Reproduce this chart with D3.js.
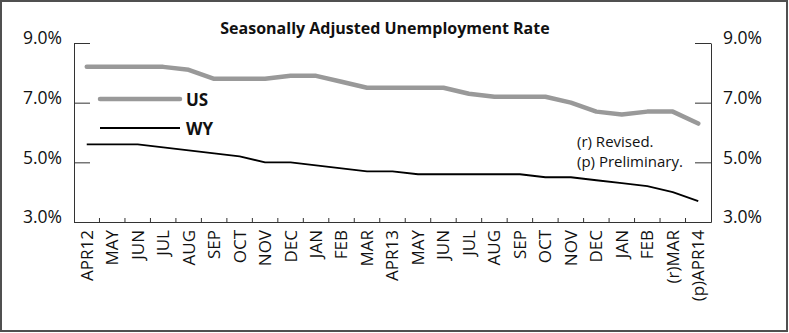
<!DOCTYPE html>
<html>
<head>
<meta charset="utf-8">
<script src="https://cdn.jsdelivr.net/npm/d3@7"></script>
<style>
  html, body { margin: 0; padding: 0; background: #fff; }
  svg { display: block; font-family: "Open Sans", sans-serif; }
</style>
</head>
<body>
<svg id="chart" width="789" height="333"></svg>
<script>
// ---- data ----
const months = ["APR12","MAY","JUN","JUL","AUG","SEP","OCT","NOV","DEC","JAN","FEB","MAR",
                "APR13","MAY","JUN","JUL","AUG","SEP","OCT","NOV","DEC","JAN","FEB","(r)MAR","(p)APR14"];
const usRate = [8.2,8.2,8.2,8.2,8.1,7.8,7.8,7.8,7.9,7.9,7.7,7.5,
                7.5,7.5,7.5,7.3,7.2,7.2,7.2,7.0,6.7,6.6,6.7,6.7,6.3];
const wyRate = [5.6,5.6,5.6,5.5,5.4,5.3,5.2,5.0,5.0,4.9,4.8,4.7,
                4.7,4.6,4.6,4.6,4.6,4.6,4.5,4.5,4.4,4.3,4.2,4.0,3.7];
const yTicks = [3,5,7,9];
const yTickLabels = ["3.0%","5.0%","7.0%","9.0%"];
const seriesNames = ["US","WY"];
const title = "Seasonally Adjusted Unemployment Rate";
const notes = ["(r) Revised.","(p) Preliminary."];

// ---- layout ----
const svg = d3.select("#chart");
const L = 74, R = 711, T = 43, B = 222;
const axisColor = "#333";

svg.append("rect").attr("x",1).attr("y",1).attr("width",786).attr("height",330)
  .attr("fill","#fff").attr("stroke","#505050").attr("stroke-width",2);

const idx = months.map((d,i)=>i);
const x = d3.scaleBand().domain(idx).range([L,R]).paddingInner(0).paddingOuter(0);
const y = d3.scaleLinear().domain([3,9]).range([B,T]);
const cx = i => x(i) + x.bandwidth()/2;

// title
svg.append("text").attr("x",385).attr("y",33.5).attr("text-anchor","middle")
  .attr("font-weight","bold").attr("font-size",16).attr("fill","#111").text(title);

// y axes
const fmt = d => yTickLabels[yTicks.indexOf(d)];
const gl = svg.append("g").attr("transform",`translate(${L},0)`)
  .call(d3.axisLeft(y).tickValues(yTicks).tickFormat(fmt).tickSize(-16).tickSizeOuter(0).tickPadding(12));
const gr = svg.append("g").attr("transform",`translate(${R},0)`)
  .call(d3.axisRight(y).tickValues(yTicks).tickFormat(fmt).tickSize(-16).tickSizeOuter(0).tickPadding(12));
[gl,gr].forEach(g=>{
  g.selectAll("path.domain").attr("stroke",axisColor);
  g.selectAll(".tick line").attr("stroke",axisColor);
  g.selectAll(".tick text").attr("font-size",17.5).attr("fill","#111")
    .attr("font-family","'Open Sans', sans-serif").attr("dy","0.05em");
});

// bottom axis
const gb = svg.append("g").attr("transform",`translate(0,${B})`)
  .call(d3.axisBottom(x).tickFormat(i=>months[i]).tickSize(0).tickSizeOuter(0));
gb.selectAll("path.domain").attr("stroke",axisColor);
gb.selectAll(".tick text")
  .attr("font-size",17).attr("fill","#111").attr("font-family","'Open Sans', sans-serif")
  .attr("transform","rotate(-90)").attr("text-anchor","end")
  .attr("x",-8).attr("y",0).attr("dy","0.35em");

// boundary ticks
svg.append("g").selectAll("line").data(idx.slice(1))
  .join("line")
  .attr("x1",i=>x(i)).attr("x2",i=>x(i))
  .attr("y1",B-4).attr("y2",B)
  .attr("stroke",axisColor).attr("stroke-width",1);

// lines
const line = d3.line().x((d,i)=>cx(i)).y(d=>y(d));
svg.append("path").datum(usRate).attr("d",line)
  .attr("fill","none").attr("stroke","#999").attr("stroke-width",4.5)
  .attr("stroke-linejoin","round").attr("stroke-linecap","round");
svg.append("path").datum(wyRate).attr("d",line)
  .attr("fill","none").attr("stroke","#000").attr("stroke-width",1.8)
  .attr("stroke-linejoin","round");

// legend
const leg = [{name:seriesNames[0],color:"#999",w:4.5,y:99},{name:seriesNames[1],color:"#000",w:1.8,y:128}];
leg.forEach(l=>{
  svg.append("line").attr("x1",100).attr("x2",180).attr("y1",l.y).attr("y2",l.y)
    .attr("stroke",l.color).attr("stroke-width",l.w).attr("stroke-linecap",l.w>3?"round":"butt");
  svg.append("text").attr("x",186).attr("y",l.y+6.5).attr("font-weight","bold")
    .attr("font-size",17).attr("fill","#111").text(l.name);
});

// notes
svg.append("text").attr("x",577).attr("y",146.5).attr("font-size",15).attr("fill","#111").text(notes[0]);
svg.append("text").attr("x",577).attr("y",167).attr("font-size",15).attr("fill","#111").text(notes[1]);
</script>
</body>
</html>
